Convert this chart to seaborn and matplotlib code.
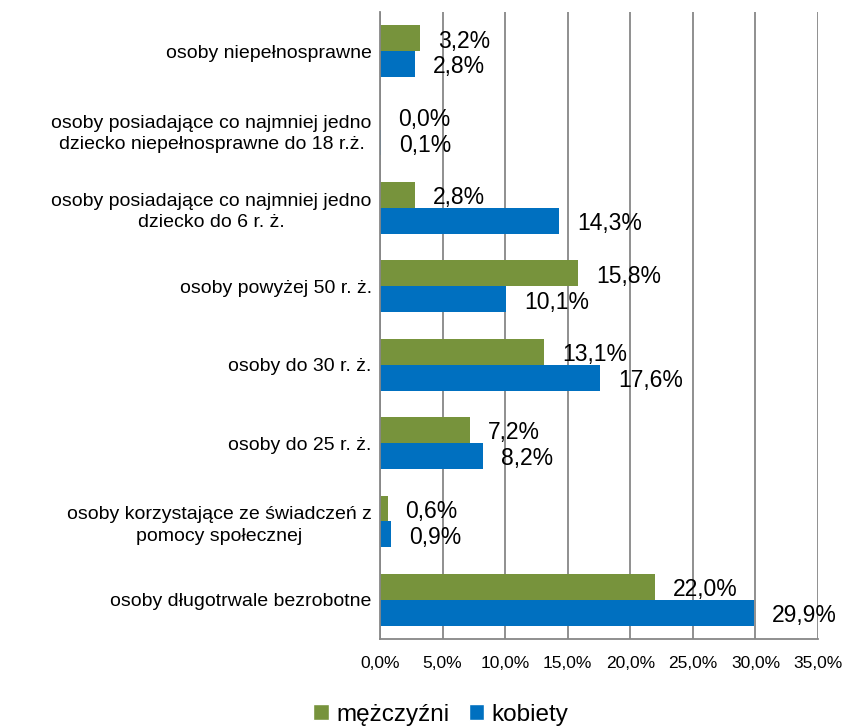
import matplotlib
matplotlib.use("Agg")
import matplotlib.pyplot as plt
import seaborn as sns
import pandas as pd
import numpy as np
from matplotlib.patches import Patch

categories = [
    "osoby niepełnosprawne",
    "osoby posiadające co najmniej jedno\ndziecko niepełnosprawne do 18 r.ż.",
    "osoby posiadające co najmniej jedno\ndziecko do 6 r. ż.",
    "osoby powyżej 50 r. ż.",
    "osoby do 30 r. ż.",
    "osoby do 25 r. ż.",
    "osoby korzystające ze świadczeń z\npomocy społecznej",
    "osoby długotrwale bezrobotne",
]
men = [3.2, 0.0, 2.8, 15.8, 13.1, 7.2, 0.6, 22.0]
women = [2.8, 0.1, 14.3, 10.1, 17.6, 8.2, 0.9, 29.9]
series = ["mężczyźni", "kobiety"]
xticks = [0, 5, 10, 15, 20, 25, 30, 35]

GREEN = "#77933C"
BLUE = "#0070C0"
GRID = "#878787"

sns.set_theme(style="white")
plt.rcParams["font.family"] = ["Liberation Sans", "DejaVu Sans"]
plt.rcParams["text.color"] = "black"
plt.rcParams["xtick.labelcolor"] = "black"
plt.rcParams["ytick.labelcolor"] = "black"

df = pd.DataFrame({
    "cat": categories * 2,
    "val": men + women,
    "ser": [series[0]] * len(categories) + [series[1]] * len(categories),
})

fig = plt.figure(figsize=(8.56, 7.26), dpi=100)
ax = fig.add_axes([380/856, 1-639/726, (818-380)/856, (639-12)/726])

sns.barplot(data=df, y="cat", x="val", hue="ser", orient="h",
            palette=[GREEN, BLUE], width=0.66, ax=ax, legend=False,
            saturation=1, linewidth=0, order=categories, hue_order=series)

ax.set_xlim(0, 35)
ax.set_ylim(len(categories) - 0.5, -0.5)
ax.set_xticks(xticks)
ax.set_xticklabels([f"{v:.1f}%".replace(".", ",") for v in xticks], fontsize=12.5,
                   color="black")
ax.set_yticks(range(len(categories)))
ax.set_yticklabels(categories, fontsize=14, ha="right", multialignment="center",
                   linespacing=1.35, color="black")
ax.tick_params(axis="y", which="major", length=0, pad=6)
ax.set_yticks(np.arange(-0.5, len(categories) + 0.5, 1), minor=True)
ax.tick_params(axis="y", which="minor", length=6, width=1.2, color=GRID, direction="out")
ax.tick_params(axis="x", which="major", length=6, width=1.2, color=GRID, direction="out", pad=6)
ax.set_xlabel("")
ax.set_ylabel("")
ax.grid(axis="x", color=GRID, linewidth=1.3)
ax.set_axisbelow(True)
for s in ["top", "right"]:
    ax.spines[s].set_visible(False)
for s in ["left", "bottom"]:
    ax.spines[s].set_color(GRID)
    ax.spines[s].set_linewidth(1.3)

for p in ax.patches:
    w = p.get_width()
    if p.get_height() <= 0:
        continue
    y = p.get_y() + p.get_height() / 2
    ax.annotate(f"{w:.1f}%".replace(".", ","), xy=(w, y), xytext=(13, -2),
                textcoords="offset points", ha="left", va="center", fontsize=16.5,
                color="black")

handles = [Patch(facecolor=GREEN, label=series[0]), Patch(facecolor=BLUE, label=series[1])]
fig.legend(handles=handles, loc="lower center", bbox_to_anchor=(0.515, -0.03), ncol=2,
           frameon=False, fontsize=17.5, handlelength=0.65, handleheight=0.65,
           handletextpad=0.3, columnspacing=0.8)

fig.savefig("out.png", dpi=100)
